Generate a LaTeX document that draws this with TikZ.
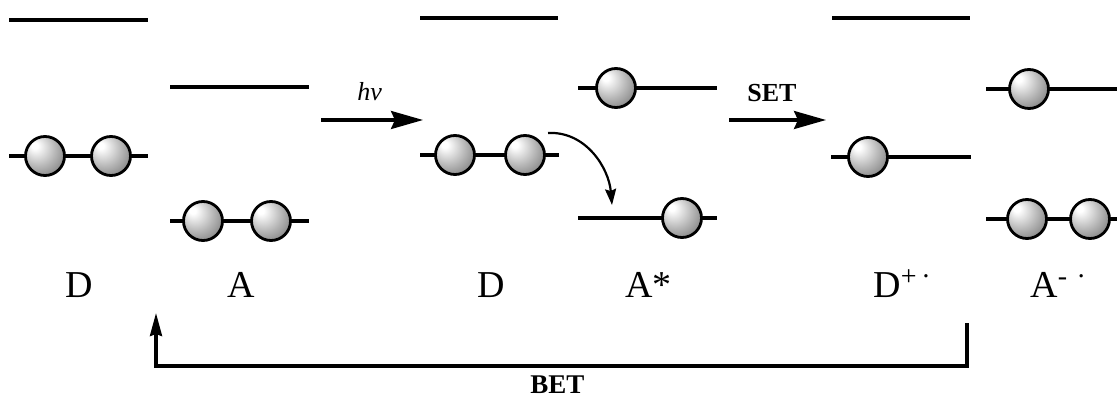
\documentclass[tikz,border=0pt]{standalone}
\usepackage{fontspec}
\setmainfont{Liberation Serif}
\usetikzlibrary{arrows.meta}
\pgfdeclareradialshading{orbball}{\pgfpoint{-14bp}{14bp}}{color(0bp)=(white); color(4bp)=(white); color(22bp)=(black!28); color(42bp)=(black!58); color(64bp)=(black!80)}
\begin{document}
\begin{tikzpicture}[x=0.5pt,y=-0.5pt,
  level/.style={line width=1.6pt},
  ball/.style={circle,draw,line width=1.4pt,minimum size=19.5pt,inner sep=0pt,shading=orbball},
  lbl/.style={anchor=base west,inner sep=0pt,font=\fontsize{19}{19}\selectfont},
  bigarrow/.style={line width=1.6pt,-{Stealth[length=16pt,width=9pt,inset=2pt]}},
  small/.style={anchor=base west,inner sep=0pt,font=\fontsize{13}{13}\selectfont}]
\useasboundingbox (0,0) rectangle (1117,405);
% D
\draw[level] (9,20) -- (148,20);
\draw[level] (9,156) -- (148,156);
\node[ball] (d1a) at (45,156) {};
\node[ball] (d1b) at (111,156) {};
% A
\draw[level] (170,87) -- (309,87);
\draw[level] (170,221) -- (309,221);
\node[ball] (a1a) at (203,221) {};
\node[ball] (a1b) at (271,221) {};
% D (excited pair)
\draw[level] (420,18) -- (558,18);
\draw[level] (420,155) -- (559,155);
\node[ball] (d2a) at (455,155) {};
\node[ball] (d2b) at (525,155) {};
% A*
\draw[level] (578,88) -- (717,88);
\draw[level] (578,218) -- (717,218);
\node[ball] (a2a) at (616,88) {};
\node[ball] (a2b) at (682,218) {};
% D+.
\draw[level] (832,18) -- (970,18);
\draw[level] (831,157) -- (971,157);
\node[ball] (d3a) at (868,157) {};
% A-.
\draw[level] (986,89) -- (1117,89);
\draw[level] (986,219) -- (1117,219);
\node[ball] (a3a) at (1029,89) {};
\node[ball] (a3b) at (1027,219) {};
\node[ball] (a3c) at (1090,219) {};
% labels
\node[lbl] (lD1) at (65,298) {D};
\node[lbl] (lA1) at (227,298) {A};
\node[lbl] (lD2) at (477,298) {D};
\node[lbl] (lA2) at (625,298) {A*};
\node[lbl] (lD3) at (873,298) {D\textsuperscript{\fontsize{14}{14}\selectfont +\,·}};
\node[lbl] (lA3) at (1030,298) {A\textsuperscript{\fontsize{14}{14}\selectfont -\,\,·}};
% hv arrow
\coordinate (hvs) at (321,120);
\coordinate (hve) at (423,120);
\draw[bigarrow] (hvs) -- (hve);
\node[small] (hv) at (357,101) {\itshape hv};
% SET arrow
\coordinate (sets) at (729,120);
\coordinate (sete) at (826,120);
\draw[bigarrow] (sets) -- (sete);
\node[small] (set) at (747,102) {\bfseries SET};
% curved electron transfer arrow
\coordinate (cts) at (548,133);
\coordinate (cte) at (612,205);
\draw[line width=1.1pt,-{Stealth[length=8pt,width=5.5pt,inset=1pt]}] (cts) to[out=3,in=95] (cte);
% BET
\coordinate (bets) at (967,323);
\coordinate (betc) at (967,366);
\coordinate (bete) at (156,313);
\draw[line width=1.6pt,-{Stealth[length=11.5pt,width=6pt,inset=1pt]}] (bets) -- (betc) -| (bete);
\node[anchor=base west,inner sep=0pt,font=\fontsize{13.5}{13.5}\selectfont\bfseries] (bet) at (530,393) {BET};
\end{tikzpicture}
\end{document}
